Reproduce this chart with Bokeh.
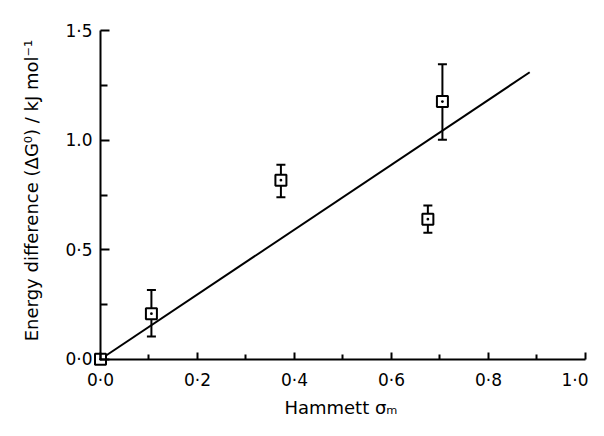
from bokeh.plotting import figure
from bokeh.models import Range1d, FixedTicker, Whisker, ColumnDataSource, TeeHead, LinearAxis
from bokeh.embed import file_html
from bokeh.resources import INLINE

# ---- data ----
sigma_m = [0.0, 0.105, 0.372, 0.675, 0.705]
delta_g = [0.0, 0.208, 0.818, 0.640, 1.177]
err_low = [0.0, 0.104, 0.740, 0.578, 1.003]
err_high = [0.0, 0.317, 0.889, 0.703, 1.348]

fit_x = [0.0, 0.885]
fit_y = [0.0, 1.311]

x_ticks = [0.0, 0.2, 0.4, 0.6, 0.8, 1.0]
x_minor = [0.1, 0.3, 0.5, 0.7, 0.9]
x_tick_labels = ["0·0", "0·2", "0·4", "0·6", "0·8", "1·0"]
y_ticks = [0.0, 0.5, 1.0, 1.5]
y_minor = [0.25, 0.75, 1.25]
y_tick_labels = ["0·0", "0·5", "1.0", "1·5"]

x_title = "Hammett σₘ"
y_title = "Energy difference (ΔG⁰) / kJ mol⁻¹"

FONT = "DejaVu Sans"

p = figure(width=588, height=420, output_backend="svg", toolbar_location=None,
           x_range=Range1d(-0.0144, 1.0062), y_range=Range1d(-0.033, 1.575),
           x_axis_location=None, y_axis_location=None,
           min_border_left=93, min_border_right=0, min_border_top=14, min_border_bottom=50)
p.outline_line_color = None
p.background_fill_color = "white"
p.border_fill_color = "white"
p.grid.visible = False

# fit line
p.line(fit_x, fit_y, line_color="black", line_width=2)

# error bars (skip the point at the origin, which has none)
eb = ColumnDataSource(dict(x=sigma_m[1:], lo=err_low[1:], hi=err_high[1:]))
w = Whisker(source=eb, base="x", lower="lo", upper="hi", line_color="black", line_width=2,
            upper_head=TeeHead(size=9, line_width=2, line_color="black"),
            lower_head=TeeHead(size=9, line_width=2, line_color="black"))
p.add_layout(w)

p.scatter(sigma_m, delta_g, marker="square_dot", size=11, fill_color="white",
          line_color="black", line_width=2)

x_tk = FixedTicker(ticks=x_ticks, minor_ticks=x_minor)
y_tk = FixedTicker(ticks=y_ticks, minor_ticks=y_minor)

# labels only, at the frame edges (added first so they sit next to the frame)
xa = LinearAxis(ticker=x_tk, axis_label=x_title)
ya = LinearAxis(ticker=y_tk, axis_label=y_title)
xa.major_label_overrides = {t: l for t, l in zip(x_ticks, x_tick_labels)}
ya.major_label_overrides = {t: l for t, l in zip(y_ticks, y_tick_labels)}
for ax in (xa, ya):
    ax.axis_line_color = None
    ax.major_tick_line_color = None
    ax.minor_tick_line_color = None
    ax.major_tick_in = 0
    ax.major_tick_out = 0
    ax.minor_tick_in = 0
    ax.minor_tick_out = 0
    ax.major_label_text_font = FONT
    ax.major_label_text_font_size = "17px"
    ax.major_label_text_color = "black"
    ax.axis_label_text_font = FONT
    ax.axis_label_text_font_size = "18px"
    ax.axis_label_text_font_style = "normal"
    ax.axis_label_text_color = "black"
xa.major_label_standoff = 3
xa.axis_label_standoff = 4
ya.major_label_standoff = 1
ya.axis_label_standoff = 20
p.add_layout(xa, "below")
p.add_layout(ya, "left")

# axis lines + inward ticks, placed at data zero
xa_line = LinearAxis(ticker=x_tk, fixed_location=0, bounds=(0, 1))
ya_line = LinearAxis(ticker=y_tk, fixed_location=0, bounds=(0, 1.5))
for ax in (xa_line, ya_line):
    ax.axis_line_width = 2
    ax.axis_line_color = "black"
    ax.major_tick_line_width = 2
    ax.minor_tick_line_width = 2
    ax.major_label_text_font_size = "0px"
    ax.major_label_text_color = None
    ax.major_label_standoff = 0
# x line axis sits in the top panel: its "out" ticks point upward
xa_line.major_tick_in = 0
xa_line.major_tick_out = 7
xa_line.minor_tick_in = 0
xa_line.minor_tick_out = 5
# y line axis in the left panel: "in" ticks point right
ya_line.major_tick_in = 9
ya_line.major_tick_out = 0
ya_line.minor_tick_in = 7
ya_line.minor_tick_out = 0
p.add_layout(xa_line, "above")
p.add_layout(ya_line, "left")

open("out.html", "w").write(file_html(p, INLINE))
